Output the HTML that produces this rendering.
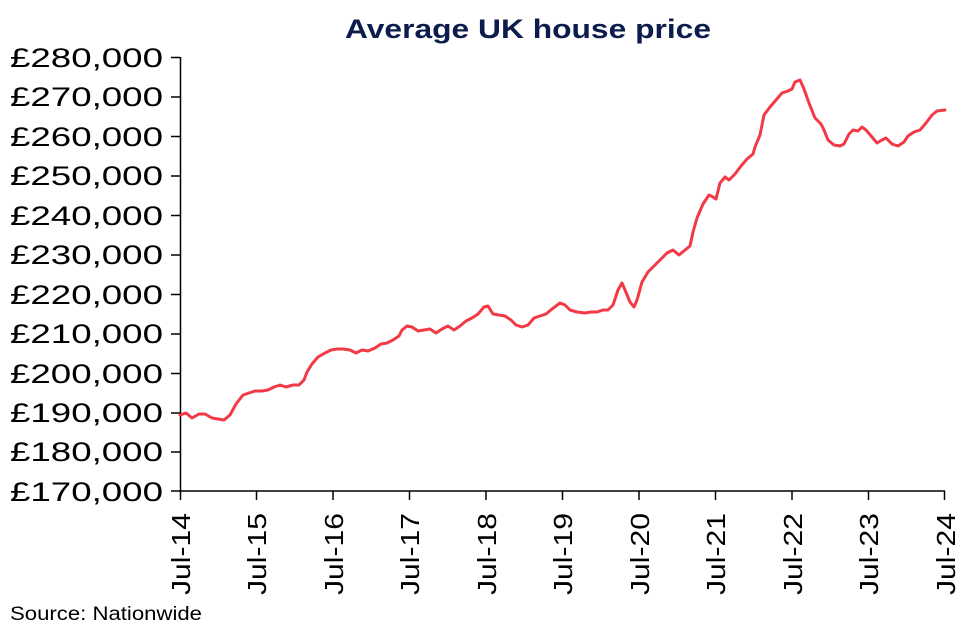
<!DOCTYPE html>
<html><head><meta charset="utf-8"><style>
html,body{margin:0;padding:0;background:#fff;}
svg{display:block;font-family:"Liberation Sans",sans-serif;}
</style></head><body>
<svg width="974" height="635" viewBox="0 0 974 635">
<text x="345" y="38" textLength="366" lengthAdjust="spacingAndGlyphs" font-size="27" font-weight="bold" fill="#0c1c4c">Average UK house price</text>
<g stroke="#000" stroke-width="1.5" fill="none">
<line x1="180.5" y1="57" x2="180.5" y2="491"/>
<line x1="180" y1="491" x2="945" y2="491"/>
<path d="M171 57.5h9M171 97h9M171 136.5h9M171 176h9M171 215.5h9M171 255h9M171 294.5h9M171 334h9M171 373.5h9M171 413h9M171 452h9M171 491h9"/>
<path d="M180.5 491v9M256.5 491v9M333 491v9M409.5 491v9M486 491v9M562.5 491v9M639 491v9M715.5 491v9M792 491v9M868.5 491v9M944.5 491v9"/>
</g>
<g font-size="27" fill="#000">
<text x="10" y="67" textLength="153" lengthAdjust="spacingAndGlyphs">£280,000</text><text x="10" y="106" textLength="153" lengthAdjust="spacingAndGlyphs">£270,000</text><text x="10" y="146" textLength="153" lengthAdjust="spacingAndGlyphs">£260,000</text><text x="10" y="185" textLength="153" lengthAdjust="spacingAndGlyphs">£250,000</text><text x="10" y="225" textLength="153" lengthAdjust="spacingAndGlyphs">£240,000</text><text x="10" y="264" textLength="153" lengthAdjust="spacingAndGlyphs">£230,000</text><text x="10" y="304" textLength="153" lengthAdjust="spacingAndGlyphs">£220,000</text><text x="10" y="343" textLength="153" lengthAdjust="spacingAndGlyphs">£210,000</text><text x="10" y="383" textLength="153" lengthAdjust="spacingAndGlyphs">£200,000</text><text x="10" y="422" textLength="153" lengthAdjust="spacingAndGlyphs">£190,000</text><text x="10" y="461" textLength="153" lengthAdjust="spacingAndGlyphs">£180,000</text><text x="10" y="501" textLength="153" lengthAdjust="spacingAndGlyphs">£170,000</text>
</g>
<g font-size="26" fill="#000">
<text transform="translate(190,595) rotate(-90)" textLength="82" lengthAdjust="spacingAndGlyphs">Jul-14</text>
<text transform="translate(266,595) rotate(-90)" textLength="82" lengthAdjust="spacingAndGlyphs">Jul-15</text>
<text transform="translate(343,595) rotate(-90)" textLength="82" lengthAdjust="spacingAndGlyphs">Jul-16</text>
<text transform="translate(419,595) rotate(-90)" textLength="82" lengthAdjust="spacingAndGlyphs">Jul-17</text>
<text transform="translate(496,595) rotate(-90)" textLength="82" lengthAdjust="spacingAndGlyphs">Jul-18</text>
<text transform="translate(572,595) rotate(-90)" textLength="82" lengthAdjust="spacingAndGlyphs">Jul-19</text>
<text transform="translate(649,595) rotate(-90)" textLength="82" lengthAdjust="spacingAndGlyphs">Jul-20</text>
<text transform="translate(725,595) rotate(-90)" textLength="82" lengthAdjust="spacingAndGlyphs">Jul-21</text>
<text transform="translate(802,595) rotate(-90)" textLength="82" lengthAdjust="spacingAndGlyphs">Jul-22</text>
<text transform="translate(878,595) rotate(-90)" textLength="82" lengthAdjust="spacingAndGlyphs">Jul-23</text>
<text transform="translate(955,595) rotate(-90)" textLength="82" lengthAdjust="spacingAndGlyphs">Jul-24</text>
</g>
<text x="10" y="620" font-size="19" fill="#000" textLength="192" lengthAdjust="spacingAndGlyphs">Source: Nationwide</text>
<polyline fill="none" stroke="#f23a46" stroke-width="3" stroke-linejoin="round" stroke-linecap="round" points="180,415 186,413 192,418 199,414 205,414 212,418 218,419 224,420 230,415 236,404 243,395 249,393 255,391 262,391 268,390 274,387 280,385 286,387 293,385 299,385 304,380 307,372 312,364 318,357 325,353 331,350 337,349 343,349 350,350 356,353 362,350 368,351 375,348 381,344 387,343 393,340 399,336 402,330 407,326 412,327 418,331 424,330 430,329 436,333 442,329 448,326 454,330 460,326 466,321 472,318 478,314 484,307 488,306 493,314 499,315 505,316 511,320 516,325 522,327 528,325 534,318 540,316 546,314 552,309 560,303 565,305 570,310 577,312 585,313 591,312 597,312 603,310 608,310 613,305 618,290 622,283 625,290 630,302 634,307 637,300 642,282 648,272 655,265 661,259 667,253 673,250 679,255 685,250 690,246 693,232 697,218 703,204 709,195 713,197 716,199 720,183 725,177 729,180 735,174 741,166 747,159 753,154 755,147 760,135 764,115 770,107 776,100 782,93 788,91 792,89 795,82 800,80 804,89 809,103 815,118 821,124 824,130 828,140 834,145 840,146 844,144 849,134 853,130 858,131 862,127 866,130 872,137 877,143 882,140 886,138 892,144 898,146 904,142 908,136 914,132 920,130 926,123 932,115 937,111 945,110"/>
</svg>
</body></html>
